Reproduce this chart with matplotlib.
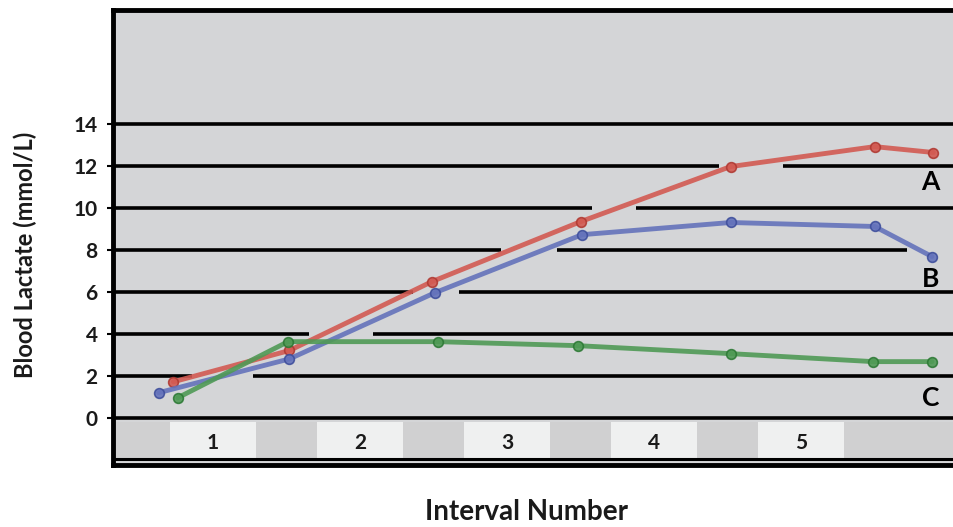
import matplotlib.pyplot as plt
from matplotlib.patches import Rectangle

plt.rcParams['font.family'] = ['Lato', 'DejaVu Sans']

# ── Data ─────────────────────────────────────────────
intervals = [1, 2, 3, 4, 5]

a_x = [0.73, 1.52, 2.49, 3.50, 4.52, 5.50, 5.90]
a_y = [1.71, 3.20, 6.48, 9.33, 11.95, 12.90, 12.62]

b_x = [0.63, 1.52, 2.51, 3.51, 4.52, 5.50, 5.89]
b_y = [1.19, 2.80, 5.95, 8.71, 9.29, 9.10, 7.67]

c_x = [0.76, 1.51, 2.53, 3.48, 4.52, 5.49, 5.89]
c_y = [0.95, 3.62, 3.62, 3.43, 3.05, 2.67, 2.67]

y_ticks = [0, 2, 4, 6, 8, 10, 12, 14]

# gaps in the gridlines of the original picture (x-from, x-to)
grid_gaps = {
    2: [(0.86, 1.27)],
    4: [(1.65, 2.09)],
    6: [(2.36, 2.67)],
    8: [(2.96, 3.34), (5.72, 6.10)],
    10: [(3.58, 3.88)],
    12: [(4.44, 4.88)],
}

# ── Figure ──────────────────────────────────────────
X0, X1 = 0.32, 6.04
fig = plt.figure(figsize=(9.54, 5.27), dpi=100)
ax = fig.add_axes([0.1185, 0.1176, 0.8815, 0.8634])
ax.set_facecolor('#d4d5d7')
ax.set_xlim(X0, X1)
ax.set_ylim(-2.25, 19.4)

# gridlines, with their breaks
for y in y_ticks:
    start = X0
    for g0, g1 in grid_gaps.get(y, []):
        ax.hlines(y, start, g0, color='black', lw=2.6, zorder=1)
        start = g1
    if start < X1:
        ax.hlines(y, start, X1, color='black', lw=2.6, zorder=1)

# interval band under zero
ax.add_patch(Rectangle((X0, -1.95), X1 - X0, 1.75, facecolor='#d0d0d1',
                       edgecolor='none', zorder=0.5))
for i in intervals:
    ax.add_patch(Rectangle((i - 0.29, -1.95), 0.58, 1.75, facecolor='#eff0f0',
                           edgecolor='none', zorder=0.6))
    ax.text(i, -1.2, str(i), ha='center', va='center', fontsize=15,
            fontweight='bold', color='#1a1a1a', zorder=3)
ax.axhline(-1.98, color='black', lw=2.2, zorder=2)

# series
series = [
    (a_x, a_y, '#d25a52', '#b03a33', 'A', 11.2),
    (b_x, b_y, '#6473bb', '#3f4f9c', 'B', 6.6),
    (c_x, c_y, '#4f9a55', '#2e7a36', 'C', 0.95),
]
for xs, ys, col, edge, name, ly in series:
    ax.plot(xs, ys, color=col, lw=3.5, alpha=0.9, marker='o', markersize=7,
            markerfacecolor=col, markeredgecolor=edge, markeredgewidth=1.2,
            solid_capstyle='round', zorder=4)
    ax.text(5.88, ly, name, ha='center', va='center', fontsize=19,
            fontweight='bold', color='black', zorder=5)

# axes styling
ax.set_yticks(y_ticks)
ax.set_yticklabels([str(v) for v in y_ticks], fontsize=15, fontweight='bold',
                   color='#1a1a1a')
ax.set_xticks([])
ax.tick_params(axis='y', length=4, width=1.5, pad=7)
for side in ['left', 'top', 'bottom']:
    ax.spines[side].set_linewidth(3.5)
    ax.spines[side].set_color('black')
ax.spines['right'].set_visible(False)

fig.text(0.026, 0.516, 'Blood Lactate (mmol/L)', rotation=90, ha='center',
         va='center', fontsize=17, fontweight='bold', color='#1a1a1a')
fig.text(0.552, 0.028, 'Interval Number', ha='center', va='center',
         fontsize=20, fontweight='bold', color='#1a1a1a')

plt.savefig('out.png', dpi=100)
